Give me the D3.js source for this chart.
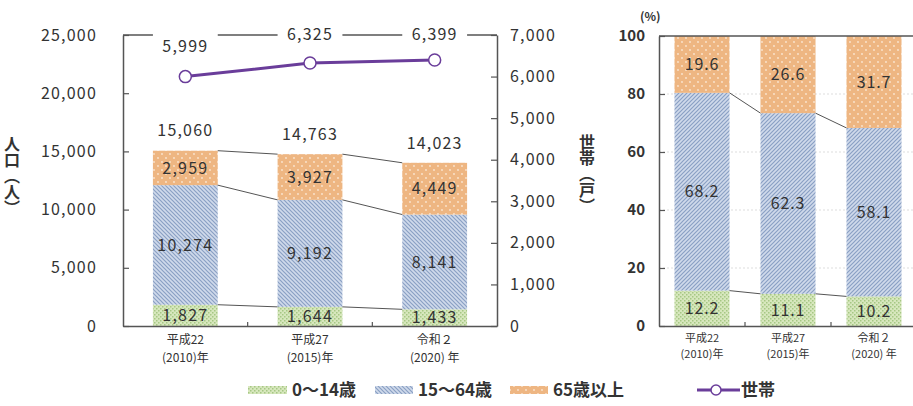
<!DOCTYPE html>
<html><head><meta charset="utf-8">
<script src="https://cdn.jsdelivr.net/npm/d3@7"></script>
<style>
body{margin:0;background:#fff;}
svg{display:block;font-family:"Noto Sans CJK JP","Noto Sans",sans-serif;}
</style></head>
<body><svg id="c" width="913" height="406"></svg>
<script>
// ---- data ----
const eraLabels = ["平成22", "平成27", "令和２"];
const yearLabels = ["(2010)年", "(2015)年", "(2020) 年"];
const age0_14 = [1827, 1644, 1433];
const age15_64 = [10274, 9192, 8141];
const age65 = [2959, 3927, 4449];
const totals = [15060, 14763, 14023];
const households = [5999, 6325, 6399];
const pct0_14 = [12.2, 11.1, 10.2];
const pct15_64 = [68.2, 62.3, 58.1];
const pct65 = [19.6, 26.6, 31.7];
const popTicks = [0, 5000, 10000, 15000, 20000, 25000];
const hhTicks = [0, 1000, 2000, 3000, 4000, 5000, 6000, 7000];
const pctTicks = [0, 20, 40, 60, 80, 100];
const legendLabels = ["0～14歳", "15～64歳", "65歳以上", "世帯"];

const svg = d3.select("#c");
const fmt = d3.format(",");
const txt = "#333";
const axisCol = "#555";
const purple = "#6a3d9a";

// ---- patterns ----
const defs = svg.append("defs");
function greenPat(id){
  const p = defs.append("pattern").attr("id", id).attr("patternUnits","userSpaceOnUse").attr("width",4).attr("height",4);
  p.append("rect").attr("width",4).attr("height",4).attr("fill","#d7e7bd");
  p.append("rect").attr("x",0).attr("y",0).attr("width",1.5).attr("height",1.5).attr("fill","#a6c784");
  p.append("rect").attr("x",2).attr("y",2).attr("width",1.5).attr("height",1.5).attr("fill","#a6c784");
}
function bluePat(id, dir){
  const p = defs.append("pattern").attr("id", id).attr("patternUnits","userSpaceOnUse").attr("width",4).attr("height",4);
  p.append("rect").attr("width",4).attr("height",4).attr("fill","#d0daeb");
  const d = dir > 0 ? "M-1,5 L5,-1 M-1,1 L1,-1 M3,5 L5,3" : "M-1,-1 L5,5 M-1,3 L1,5 M3,-1 L5,1";
  p.append("path").attr("d", d).attr("stroke","#8aa0c4").attr("stroke-width",1.2);
}
function orangePat(id){
  const p = defs.append("pattern").attr("id", id).attr("patternUnits","userSpaceOnUse").attr("width",8).attr("height",8);
  p.append("rect").attr("width",8).attr("height",8).attr("fill","#eeb682");
  p.append("circle").attr("cx",2).attr("cy",2).attr("r",0.9).attr("fill","#fbe6d2");
  p.append("circle").attr("cx",6).attr("cy",6).attr("r",0.9).attr("fill","#fbe6d2");
}
greenPat("pg"); bluePat("pbL",-1); bluePat("pbR",1); orangePat("po");

// ================= LEFT CHART =================
const L = {left:123, right:497, top:35, bottom:326};
const xL = d3.scaleBand().domain([0,1,2]).range([L.left, L.right]).paddingInner(0.48).paddingOuter(0.24);
const yL = d3.scaleLinear().domain([0,25000]).range([L.bottom, L.top]);
const yR = d3.scaleLinear().domain([0,7000]).range([L.bottom, L.top]);

const stacksL = [0,1,2].map(i => {
  const a = age0_14[i], b = age15_64[i], c = age65[i];
  return [
    {y0:0, y1:a, v:a, fill:"url(#pg)"},
    {y0:a, y1:a+b, v:b, fill:"url(#pbL)"},
    {y0:a+b, y1:a+b+c, v:c, fill:"url(#po)"}
  ];
});

const gL = svg.append("g");
stacksL.forEach((segs,i) => {
  gL.selectAll(null).data(segs).enter().append("rect")
    .attr("x", xL(i)).attr("width", xL.bandwidth())
    .attr("y", d => yL(d.y1)).attr("height", d => yL(d.y0) - yL(d.y1))
    .attr("fill", d => d.fill);
});
[0,1].forEach(i => {
  [0,1,2].forEach(k => {
    gL.append("line")
      .attr("x1", xL(i)+xL.bandwidth()).attr("x2", xL(i+1))
      .attr("y1", yL(stacksL[i][k].y1)).attr("y2", yL(stacksL[i+1][k].y1))
      .attr("stroke", axisCol).attr("stroke-width", 1);
  });
});
stacksL.forEach((segs,i) => {
  gL.selectAll(null).data(segs).enter().append("text")
    .attr("x", xL(i)+xL.bandwidth()/2)
    .attr("y", d => (yL(d.y0)+yL(d.y1))/2)
    .attr("dy","0.36em").attr("text-anchor","middle")
    .attr("font-size",16).attr("letter-spacing",1.2).attr("fill",txt)
    .text(d => fmt(d.v));
});
gL.selectAll(null).data(totals).enter().append("text")
  .attr("x",(d,i)=>xL(i)+xL.bandwidth()/2).attr("y", d => yL(d) - 20)
  .attr("dy","0.36em").attr("text-anchor","middle")
  .attr("font-size",16).attr("letter-spacing",1.2).attr("fill",txt)
  .text(d => fmt(d));

gL.append("line").attr("x1",L.left).attr("x2",L.right).attr("y1",L.top).attr("y2",L.top)
  .attr("stroke",axisCol).attr("stroke-width",1.5);

const hhLabelY = households.map(d => Math.max(yR(d) - 30, 34));
gL.selectAll(null).data(households).enter().append("rect")
  .attr("x",(d,i)=>xL(i)).attr("width",xL.bandwidth())
  .attr("y",27).attr("height",(d,i)=>hhLabelY[i]+10-27).attr("fill","#fff");
gL.selectAll(null).data(households).enter().append("text")
  .attr("x",(d,i)=>xL(i)+xL.bandwidth()/2).attr("y",(d,i)=>hhLabelY[i])
  .attr("dy","0.36em").attr("text-anchor","middle")
  .attr("font-size",16).attr("letter-spacing",1.2).attr("fill",txt)
  .text(d => fmt(d));

const line = d3.line().x((d,i)=>xL(i)+xL.bandwidth()/2).y(d=>yR(d));
gL.append("path").datum(households).attr("d",line).attr("fill","none")
  .attr("stroke",purple).attr("stroke-width",3);
gL.selectAll(null).data(households).enter().append("circle")
  .attr("cx",(d,i)=>xL(i)+xL.bandwidth()/2).attr("cy",d=>yR(d)).attr("r",6)
  .attr("fill","#fff").attr("stroke",purple).attr("stroke-width",1.5);

function styleAxis(g){
  g.attr("font-family",null);
  g.select(".domain").attr("stroke",axisCol).attr("stroke-width",1.5);
  g.selectAll(".tick line").attr("stroke",axisCol).attr("stroke-width",1.2);
  g.selectAll(".tick text").attr("fill",txt);
}
const axL = svg.append("g").attr("transform",`translate(${L.left},0)`)
  .call(d3.axisLeft(yL).tickValues(popTicks).tickFormat(fmt).tickSize(-6).tickSizeOuter(0).tickPadding(26));
styleAxis(axL);
axL.selectAll(".tick text").attr("font-size",16).attr("letter-spacing",1.2);

const axR = svg.append("g").attr("transform",`translate(${L.right},0)`)
  .call(d3.axisRight(yR).tickValues(hhTicks).tickFormat(fmt).tickSize(-6).tickSizeOuter(0).tickPadding(13));
styleAxis(axR);
axR.selectAll(".tick text").attr("font-size",16).attr("letter-spacing",1.2);

const axB = svg.append("g").attr("transform",`translate(0,${L.bottom})`)
  .call(d3.axisBottom(xL).tickSize(0).tickPadding(9).tickFormat(i => eraLabels[i]));
styleAxis(axB);
axB.selectAll(".tick text").attr("font-size",12).each(function(i){
  d3.select(this).append("tspan").attr("x",0).attr("dy","1.55em").text(yearLabels[i]);
});
[0,1].forEach(i => {
  const bx = xL(i) + xL.bandwidth() + (xL.step()-xL.bandwidth())/2;
  svg.append("line").attr("x1",bx).attr("x2",bx).attr("y1",L.bottom).attr("y2",L.bottom-4)
    .attr("stroke",axisCol).attr("stroke-width",1.2);
});

svg.append("text").attr("x",12).attr("y",136).attr("writing-mode","vertical-rl")
  .attr("font-size",16).attr("fill",txt).attr("font-weight","bold")
  .style("text-orientation","upright").text("人口（人）");
svg.append("text").attr("x",587).attr("y",134).attr("writing-mode","vertical-rl")
  .attr("font-size",16).attr("fill",txt).attr("font-weight","bold")
  .style("text-orientation","upright").text("世帯（戸）");

// ================= RIGHT CHART =================
const R = {left:659, right:917, top:36, bottom:326};
const xP = d3.scaleBand().domain([0,1,2]).range([R.left, R.right]).paddingInner(0.36).paddingOuter(0.18);
const yP = d3.scaleLinear().domain([0,100]).range([R.bottom, R.top]);
const gR = svg.append("g");
gR.selectAll(null).data(pctTicks.filter(d => d>0 && d<100)).enter().append("line")
  .attr("x1",R.left).attr("x2",R.right).attr("y1",d=>yP(d)).attr("y2",d=>yP(d))
  .attr("stroke","#ddd").attr("stroke-width",1).attr("stroke-dasharray","2,2");

const stacksP = [0,1,2].map(i => {
  const a = pct0_14[i], b = pct15_64[i], c = pct65[i];
  return [
    {y0:0, y1:a, v:a, fill:"url(#pg)"},
    {y0:a, y1:a+b, v:b, fill:"url(#pbR)"},
    {y0:a+b, y1:100, v:c, fill:"url(#po)"}
  ];
});
stacksP.forEach((segs,i) => {
  gR.selectAll(null).data(segs).enter().append("rect")
    .attr("x", xP(i)).attr("width", xP.bandwidth())
    .attr("y", d => yP(d.y1)).attr("height", d => yP(d.y0) - yP(d.y1))
    .attr("fill", d => d.fill);
});
[0,1].forEach(i => {
  [0,1].forEach(k => {
    gR.append("line")
      .attr("x1", xP(i)+xP.bandwidth()).attr("x2", xP(i+1))
      .attr("y1", yP(stacksP[i][k].y1)).attr("y2", yP(stacksP[i+1][k].y1))
      .attr("stroke", axisCol).attr("stroke-width", 1);
  });
});
stacksP.forEach((segs,i) => {
  gR.selectAll(null).data(segs).enter().append("text")
    .attr("x", xP(i)+xP.bandwidth()/2)
    .attr("y", d => (yP(d.y0)+yP(d.y1))/2)
    .attr("dy","0.36em").attr("text-anchor","middle")
    .attr("font-size",16).attr("letter-spacing",0.8).attr("fill",txt)
    .text(d => d3.format(".1f")(d.v));
});
gR.append("line").attr("x1",R.left).attr("x2",R.right).attr("y1",R.top).attr("y2",R.top)
  .attr("stroke",axisCol).attr("stroke-width",1.5);

const axP = svg.append("g").attr("transform",`translate(${R.left},0)`)
  .call(d3.axisLeft(yP).tickValues(pctTicks).tickSize(-6).tickSizeOuter(0).tickPadding(14));
styleAxis(axP);
axP.selectAll(".tick text").attr("font-size",15).attr("font-weight","bold");

const axPB = svg.append("g").attr("transform",`translate(0,${R.bottom})`)
  .call(d3.axisBottom(xP).tickSize(0).tickPadding(8).tickFormat(i => eraLabels[i]));
styleAxis(axPB);
axPB.selectAll(".tick text").attr("font-size",11).each(function(i){
  d3.select(this).append("tspan").attr("x",0).attr("dy","1.5em").text(yearLabels[i]);
});
[0,1].forEach(i => {
  const bx = xP(i) + xP.bandwidth() + (xP.step()-xP.bandwidth())/2;
  svg.append("line").attr("x1",bx).attr("x2",bx).attr("y1",R.bottom).attr("y2",R.bottom-4)
    .attr("stroke",axisCol).attr("stroke-width",1.2);
});
svg.append("text").attr("x",640).attr("y",21).attr("font-size",12).attr("font-weight","bold")
  .attr("fill",txt).text("(%)");

// ================= LEGEND =================
const lg = svg.append("g");
const legY = 390;
const swatches = [
  {x:248, w:39, fill:"url(#pg)", tx:292},
  {x:375, w:38, fill:"url(#pbL)", tx:418},
  {x:510, w:38, fill:"url(#po)", tx:553}
];
swatches.forEach((s,i) => {
  lg.append("rect").attr("x",s.x).attr("y",legY-4).attr("width",s.w).attr("height",8).attr("fill",s.fill);
  lg.append("text").attr("x",s.tx).attr("y",legY).attr("dy","0.36em")
    .attr("font-size",17).attr("font-weight","bold").attr("fill",txt).text(legendLabels[i]);
});
lg.append("line").attr("x1",697).attr("x2",740).attr("y1",legY).attr("y2",legY)
  .attr("stroke",purple).attr("stroke-width",3);
lg.append("circle").attr("cx",716).attr("cy",legY).attr("r",5)
  .attr("fill","#fff").attr("stroke",purple).attr("stroke-width",1.5);
lg.append("text").attr("x",741).attr("y",legY).attr("dy","0.36em")
  .attr("font-size",17).attr("font-weight","bold").attr("fill",txt).text(legendLabels[3]);
</script>
</body></html>
